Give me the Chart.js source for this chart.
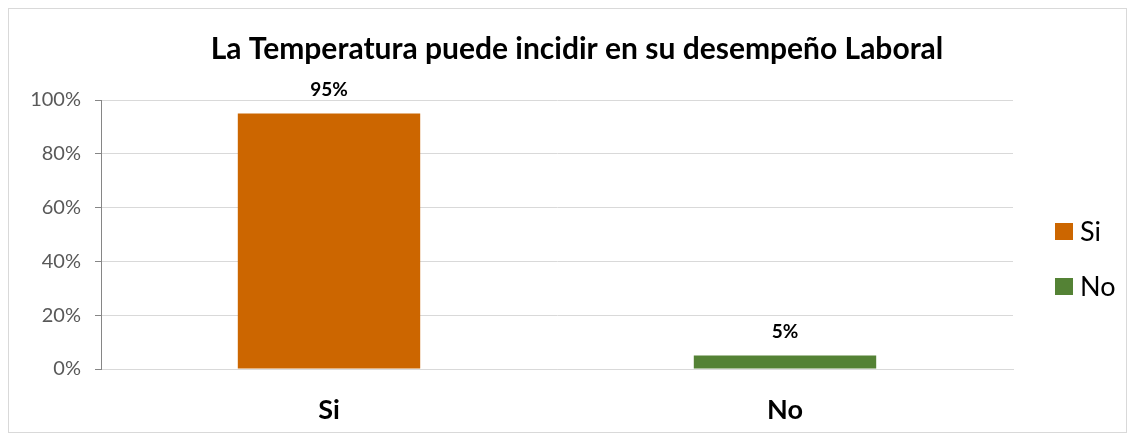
<!DOCTYPE html>
<html>
<head>
<meta charset="utf-8">
<script src="https://cdn.jsdelivr.net/npm/chart.js@4"></script>
<style>
  html, body { margin: 0; padding: 0; background: #fff; }
  #frame {
    position: absolute; left: 8px; top: 8px;
    width: 1119px; height: 425px;
    box-sizing: border-box; border: 1px solid #d9d9d9;
  }
</style>
</head>
<body>
<div id="frame"><canvas id="temp" width="1117" height="423"></canvas></div>
<script>
const categories = ['Si', 'No'];
const values = [95, 5];
const barColors = ['#cc6600', '#548235'];
const yTicks = [0, 20, 40, 60, 80, 100];
const chartTitle = 'La Temperatura puede incidir en su desempeño Laboral';

const FONT = 'Lato, "Open Sans", sans-serif';

// labels above the bars
const valueLabels = {
  id: 'valueLabels',
  afterDatasetsDraw(chart) {
    const ctx = chart.ctx;
    const meta = chart.getDatasetMeta(0);
    ctx.save();
    ctx.font = 'bold 19px ' + FONT;
    ctx.fillStyle = '#000';
    ctx.textAlign = 'center';
    ctx.textBaseline = 'middle';
    meta.data.forEach((bar, i) => {
      ctx.fillText(values[i] + '%', bar.x, bar.y - 24);
    });
    ctx.restore();
  }
};

// legend at the right, one entry per category
const sideLegend = {
  id: 'sideLegend',
  afterDraw(chart) {
    const ctx = chart.ctx;
    const area = chart.chartArea;
    const x = area.right + 42;
    let y = (area.top + area.bottom) / 2 - 3;
    ctx.save();
    ctx.font = '27px ' + FONT;
    ctx.textBaseline = 'middle';
    categories.forEach((c, i) => {
      ctx.fillStyle = barColors[i];
      ctx.fillRect(x, y - 8.5, 18, 17);
      ctx.fillStyle = '#000';
      ctx.fillText(c, x + 25, y + 1);
      y += 55;
    });
    ctx.restore();
  }
};

new Chart(document.getElementById('temp'), {
  type: 'bar',
  data: {
    labels: categories,
    datasets: [{
      data: values,
      backgroundColor: barColors,
      barPercentage: 0.4,
      categoryPercentage: 1
    }]
  },
  options: {
    responsive: false,
    animation: false,
    layout: { padding: { left: 19, right: 0, top: 0, bottom: 0 } },
    scales: {
      x: {
        grid: { display: false, drawTicks: false },
        border: { color: '#d9d9d9' },
        ticks: { color: '#000', font: { family: FONT, size: 27, weight: 'bold' }, padding: 25 },
        afterFit(scale) { scale.height = 63; }
      },
      y: {
        min: 0,
        max: 100,
        afterBuildTicks(scale) { scale.ticks = yTicks.map(v => ({ value: v })); },
        grid: { color: '#d9d9d9', tickColor: '#868686', tickLength: 6 },
        border: { color: '#868686' },
        ticks: {
          color: '#595959',
          font: { family: FONT, size: 20 },
          padding: 14,
          callback: v => v + '%'
        },
        afterFit(scale) { scale.width = 73; }
      },
      // empty axis that keeps room for the legend on the right
      side: {
        type: 'linear',
        position: 'right',
        grid: { drawOnChartArea: false, drawTicks: false },
        border: { display: false },
        ticks: { display: false },
        afterFit(scale) { scale.width = 113; }
      }
    },
    plugins: {
      legend: { display: false },
      tooltip: { enabled: false },
      title: {
        display: true,
        text: chartTitle,
        color: '#000',
        font: { family: FONT, size: 30, weight: 'bold' },
        padding: { top: 22, bottom: 33 }
      }
    }
  },
  plugins: [valueLabels, sideLegend]
});
</script>
</body>
</html>
